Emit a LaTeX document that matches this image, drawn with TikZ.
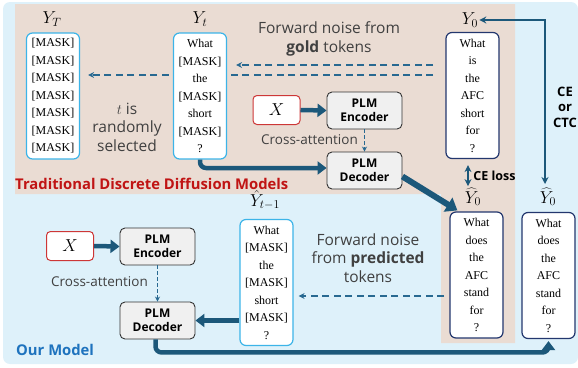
\documentclass[tikz,border=0pt]{standalone}
\usepackage{fontspec}
\setmainfont{Liberation Serif}
\newfontfamily\lato{Open Sans}
\usetikzlibrary{arrows.meta,calc}
\definecolor{bgblue}{RGB}{222,241,250}
\definecolor{beigec}{RGB}{234,220,211}
\definecolor{arrowc}{RGB}{28,88,122}
\definecolor{dashc}{RGB}{40,105,145}
\definecolor{lblue}{RGB}{60,180,232}
\definecolor{navyc}{RGB}{35,55,110}
\definecolor{redb}{RGB}{205,55,55}
\definecolor{redt}{RGB}{192,20,20}
\definecolor{ourblue}{RGB}{30,115,190}
\definecolor{grayt}{RGB}{64,64,64}
\newcommand\msk{{[MASK]}}
\pgfdeclarelayer{panel}
\pgfdeclarelayer{lines}
\pgfsetlayers{panel,lines,main}
\tikzset{
  tokbox/.style={draw, rounded corners=6pt, fill=white, line width=1.2pt,
    minimum width=53pt, minimum height=126pt, inner sep=0pt, align=center,
    font=\fontsize{12}{17.5}\selectfont},
  plm/.style={draw=black!80, fill=black!6, rounded corners=5pt, line width=0.9pt,
    minimum width=75pt, minimum height=37pt, inner sep=0pt, align=center,
    font=\lato\bfseries\fontsize{12}{13.5}\selectfont},
  xbox/.style={draw=redb, fill=white, rounded corners=4pt, line width=1pt,
    minimum width=47pt, minimum height=29pt, inner sep=0pt, font=\fontsize{18}{18}\selectfont},
  lab/.style={font=\fontsize{18}{18}\selectfont, inner sep=1pt},
  fat/.style={draw=arrowc, line width=4.5pt, rounded corners=6pt, -{Triangle[length=9pt,width=13pt]}},
  dsh/.style={draw=dashc, line width=1.8pt, dash pattern=on 7pt off 4.5pt, -{Stealth[length=6pt,width=6pt]}},
  thinl/.style={draw=dashc, line width=1.8pt, dash pattern=on 4pt off 2pt, -{Stealth[length=5pt,width=5pt]}},
  rline/.style={draw=arrowc, line width=1.8pt, {Stealth[length=7pt,width=7pt]}-{Stealth[length=7pt,width=7pt]}},
  gtxt/.style={text=grayt, align=center, font=\lato\fontsize{15.5}{18.5}\selectfont, inner sep=0pt},
  btxt/.style={align=center, font=\lato\bfseries\fontsize{12.5}{15.5}\selectfont, inner sep=0pt}
}
\begin{document}
\begin{tikzpicture}[x=1pt,y=-1pt]
\useasboundingbox (0,0) rectangle (578,367);
\begin{pgfonlayer}{panel}
\fill[bgblue, rounded corners=7pt] (3,2) rectangle (578,364);
\fill[beigec] (15,4) -- (515,4) -- (515,343) -- (441,343) -- (441,194) -- (15,194) -- cycle;
\end{pgfonlayer}

% token boxes
\node[tokbox, draw=lblue] (YT) at (53,96) {\msk\\\msk\\\msk\\\msk\\\msk\\\msk\\\msk};
\node[tokbox, draw=lblue] (Yt) at (200,96) {What\\\msk\\the\\\msk\\short\\\msk\\?};
\node[tokbox, draw=navyc] (Y0) at (472.5,95.5) {What\\is\\the\\AFC\\short\\for\\?};
\node[tokbox, draw=navyc] (Y0h) at (476.5,275) {What\\does\\the\\AFC\\stand\\for\\?};
\node[tokbox, draw=navyc] (Y0h2) at (548.5,275.5) {What\\does\\the\\AFC\\stand\\for\\?};
\node[tokbox, draw=lblue] (Ytm) at (266.5,282.5) {What\\\msk\\the\\\msk\\short\\\msk\\?};

% labels
\node[lab] (YTl) at (52,19) {$Y_T$};
\node[lab] (Ytl) at (200,19) {$Y_t$};
\node[lab] (Y0l) at (470,20) {$Y_0$};
\node[lab] (Y0hl) at (473,197) {$\widehat{Y}_0$};
\node[lab] (Y0h2l) at (548,197) {$\widehat{Y}_0$};
\node[lab] (Ytml) at (265,200) {$\hat{Y}_{t-1}$};

% PLM blocks
\node[xbox] (X1) at (276.5,110) {$X$};
\node[plm] (enc1) at (364.5,110.5) {PLM\\Encoder};
\node[plm] (dec1) at (364.5,170.5) {PLM\\Decoder};
\node[xbox] (X2) at (70,246) {$X$};
\node[plm] (enc2) at (157.5,246.5) {PLM\\Encoder};
\node[plm] (dec2) at (157.5,320.5) {PLM\\Decoder};

% texts
\node[gtxt] (fn1) at (329,39) {Forward noise from\\\textbf{gold} tokens};
\node[gtxt] (tsel) at (127,127) {$t$ is\\randomly\\selected};
\node[gtxt] (fn2) at (368,258) {Forward noise\\from \textbf{predicted}\\tokens};
\node[gtxt, font=\lato\fontsize{13.5}{15}\selectfont] (ca1) at (309.5,140) {Cross-attention};
\node[gtxt, font=\lato\fontsize{13.5}{15}\selectfont] (ca2) at (99.5,282) {Cross-attention};
\node[btxt] (ce) at (494.5,176) {CE loss};
\node[btxt, font=\lato\bfseries\fontsize{13}{15.5}\selectfont] (cectc) at (565,107) {CE\\or\\CTC};
\node[anchor=west, text=redt, font=\lato\bfseries\fontsize{14.8}{16}\selectfont, inner sep=0pt] (trad) at (15,184) {Traditional Discrete Diffusion Models};
\node[anchor=west, text=ourblue, font=\lato\bfseries\fontsize{14.8}{16}\selectfont, inner sep=0pt] (ours) at (16,350) {Our Model};

% dashed noise arrows
\coordinate (g1) at (433,65);
\coordinate (g2) at (433,75);
\coordinate (p1) at (444,296);
\begin{pgfonlayer}{lines}
\draw[dsh, shorten >=9pt] (g1) -- (Yt.east |- g1);
\draw[dsh, shorten >=8pt] (g2) -- (YT.east |- g2);
\end{pgfonlayer}
\draw[dsh, shorten >=5pt] (p1) -- (Ytm.east |- p1);

% cross attention
\draw[thinl] (enc1.south) -- (dec1.north);
\draw[thinl] (enc2.south) -- (dec2.north);

% thick arrows
\draw[fat] (X1.east) -- (enc1.west);
\draw[fat] (X2.east) -- (enc2.west);
\draw[fat] (Yt.south) |- ([yshift=2.5pt]dec1.west);
\draw[fat, line width=6pt, -{Triangle[length=11pt,width=16pt]}] ([yshift=-6pt]dec1.east) -- ([xshift=8pt,yshift=1pt]Y0h.north west);
\draw[fat] (Ytm.west |- dec2.east) -- (dec2.east);
\draw[fat] ([xshift=-2pt]dec2.south) -- ++(0,13) -| ([yshift=-2pt]Y0h2.south);

% loss arrows
\draw[rline] ([xshift=-4.5pt,yshift=-6pt]Y0.south) -- ++(0,21);
\draw[rline] (Y0l.east) -| ([xshift=-3pt,yshift=3pt]Y0h2l.north);
\end{tikzpicture}
\end{document}
